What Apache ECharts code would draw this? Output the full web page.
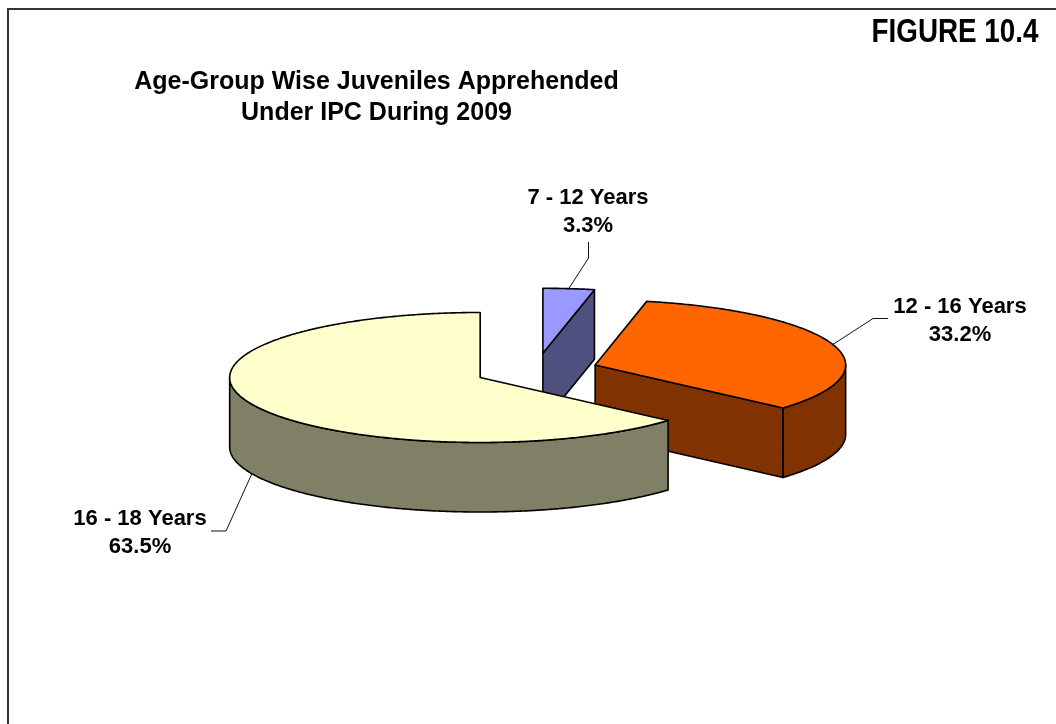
<!DOCTYPE html>
<html>
<head>
<meta charset="utf-8">
<style>html,body{margin:0;padding:0;background:#fff}#c{width:1056px;height:724px}</style>
<script src="https://cdn.jsdelivr.net/npm/echarts@6/dist/echarts.min.js"></script>
</head>
<body>
<div id="c"></div>
<script>
const categories = ['7 - 12 Years', '12 - 16 Years', '16 - 18 Years'];
const shares = [3.3, 33.2, 63.5];
const titleLines = ['Age-Group Wise Juveniles Apprehended', 'Under IPC During 2009'];
const figureLabel = 'FIGURE 10.4';

const topColors = ['#9999FF', '#FF6600', '#FFFFCC'];
const sideColors = ['#4F4F80', '#803300', '#808066'];
const labelPos = [[588, 212], [960, 321], [140, 533]];
const leaderBend = [[[588.5, 258], [588.5, 242]], [[873, 318.5], [888, 318.5]], [[226, 531], [211, 531]]];

const CX = 536.5, CY = 370.4, RX = 250.5, RY = 65, DEPTH = 69.5, EXPLODE_X = 61.8, EXPLODE_Y = 17.2;
const FONT = '"Liberation Sans", Arial, sans-serif';
const total = shares.reduce((a, b) => a + b, 0);
const rad = d => d * Math.PI / 180;

function renderItem(params, api) {
  const i = params.dataIndex;
  const before = shares.slice(0, i).reduce((a, b) => a + b, 0);
  const a = before / total * 360;
  const b = a + api.value(0) / total * 360;
  const mid = (a + b) / 2;
  const ox = CX + EXPLODE_X * Math.sin(rad(mid));
  const oy = CY - EXPLODE_Y * Math.cos(rad(mid));
  const rim = (t, dy) => [ox + RX * Math.sin(rad(t)), oy - RY * Math.cos(rad(t)) + (dy || 0)];
  const arc = (from, to, dy) => {
    const n = Math.max(2, Math.ceil(Math.abs(to - from) * 2));
    const pts = [];
    for (let k = 0; k <= n; k++) pts.push(rim(from + (to - from) * k / n, dy));
    return pts;
  };
  const stroke = { stroke: '#000', lineWidth: 1.6, lineJoin: 'round' };
  const poly = (points, fill) => ({ type: 'polygon', shape: { points }, style: Object.assign({ fill }, stroke) });
  const children = [];
  // flat cut faces that look towards the viewer
  [[b, Math.sin(rad(b))], [a, -Math.sin(rad(a))]].forEach(([t, facing]) => {
    if (facing > 1e-6) {
      const r = rim(t);
      children.push(poly([[ox, oy], r, [r[0], r[1] + DEPTH], [ox, oy + DEPTH]], sideColors[i]));
    }
  });
  // outer curved wall on the front half
  const f0 = Math.max(a, 90), f1 = Math.min(b, 270);
  if (f1 > f0) {
    children.push(poly(arc(f0, f1, 0).concat(arc(f1, f0, DEPTH)), sideColors[i]));
  }
  // top face
  children.push(poly([[ox, oy]].concat(arc(a, b, 0)), topColors[i]));
  // leader line and label
  const start = rim(mid, mid > 90 && mid < 270 ? DEPTH : 0);
  children.push({
    type: 'polyline',
    shape: { points: [start].concat(leaderBend[i]) },
    style: { fill: null, stroke: '#111', lineWidth: 1 }
  });
  children.push({
    type: 'text',
    style: {
      x: labelPos[i][0], y: labelPos[i][1],
      text: categories[i] + '\n' + api.value(0).toFixed(1) + '%',
      font: 'bold 22px ' + FONT, lineHeight: 28,
      textAlign: 'center', textVerticalAlign: 'middle', fill: '#000'
    }
  });
  return { type: 'group', children };
}

const chart = echarts.init(document.getElementById('c'), null, { renderer: 'canvas' });
chart.setOption({
  animation: false,
  backgroundColor: '#fff',
  tooltip: { show: false },
  graphic: [
    { type: 'polyline', silent: true, shape: { points: [[8, 724], [8, 9], [1056, 9]] },
      style: { fill: null, stroke: '#333', lineWidth: 2 } },
    { type: 'text', style: { x: 376.5, y: 97.5, text: titleLines.join('\n'), font: 'bold 25px ' + FONT, lineHeight: 31,
        textAlign: 'center', textVerticalAlign: 'middle', fill: '#000' } },
    { type: 'text', x: 955, y: 33, scaleX: 0.843, style: { x: 0, y: 0, text: figureLabel, font: 'bold 33px ' + FONT,
        textAlign: 'center', textVerticalAlign: 'middle', fill: '#000' } }
  ],
  series: [{
    type: 'custom',
    coordinateSystem: 'none',
    silent: true,
    clip: false,
    renderItem,
    data: shares.map(v => [v])
  }]
});
</script>
</body>
</html>
